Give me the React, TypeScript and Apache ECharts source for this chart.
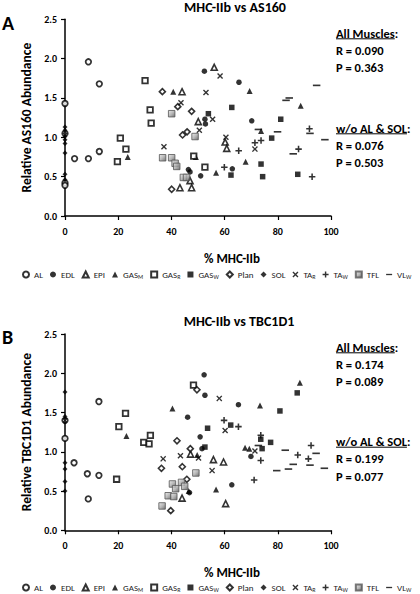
import React, { useEffect, useRef } from 'react';
import * as echarts from 'echarts';

// ---------- data ----------
const xTicks = [0, 20, 40, 60, 80, 100];
const yTicks = [0, 0.5, 1.0, 1.5, 2.0, 2.5];
const muscles = ['AL', 'EDL', 'EPI', 'GAS_M', 'GAS_R', 'GAS_W', 'Plan', 'SOL', 'TA_R', 'TA_W', 'TFL', 'VL_W'];

const titleA = 'MHC-IIb vs AS160';
const titleB = 'MHC-IIb vs TBC1D1';
const yNameA = 'Relative AS160 Abundance';
const yNameB = 'Relative TBC1D1 Abundance';
const xName = '% MHC-IIb';
const statsA = { all: ['R = 0.090', 'P = 0.363'], wo: ['R = 0.076', 'P = 0.503'] };
const statsB = { all: ['R = 0.174', 'P = 0.089'], wo: ['R = 0.199', 'P = 0.077'] };

// Panel A: % MHC-IIb vs relative AS160
const AL_A = [[0, 1.43], [0, 1.05], [0, 0.42], [0, 0.39], [3.6, 0.73], [8.8, 0.73], [12.9, 0.82], [8.8, 1.96], [12.9, 1.68]];
const EDL_A = [[52.4, 1.84], [65.4, 1.70], [52.6, 1.23], [52.8, 1.17], [70.2, 1.21], [62.9, 0.60], [51, 0.51], [46.4, 0.59], [47, 0.56]];
const EPI_A = [[56.1, 1.89], [44, 1.58], [50.1, 1.20], [60.2, 0.94], [60.8, 0.86], [47, 0.45], [47.6, 0.36], [43.2, 0.36]];
const GAS_M_A = [[40.7, 1.58], [23.6, 0.75], [69.4, 1.59], [88.6, 1.40], [73.7, 1.08], [67.9, 0.69], [56.8, 0.55], [49.2, 0.75]];
const GAS_R_A = [[30.1, 1.72], [32, 1.35], [32.4, 1.18], [20.8, 0.99], [22.9, 0.85], [19.7, 0.69], [52.6, 0.62], [48.4, 0.76]];
const GAS_W_A = [[62.7, 1.38], [53.9, 1.30], [81.1, 1.23], [77.7, 0.99], [73.7, 0.66], [62.4, 0.52], [74.3, 0.50], [87.5, 0.53]];
const Plan_A = [[36.6, 1.58], [42.4, 1.39], [47.6, 1.33], [44.2, 1.03], [45.9, 1.07], [40.1, 0.34]];
const SOL_A = [[0, 1.13], [0, 1.09], [0, 1.05], [0, 1.01], [0, 0.97], [0, 0.92], [0, 0.80], [0, 0.53], [0, 0.46]];
const TA_R_A = [[58.3, 1.78], [53, 1.57], [43.6, 1.44], [55.5, 1.23], [50.5, 1.09], [37.2, 0.88], [60.5, 1.0], [71.4, 0.85]];
const TA_W_A = [[91.9, 1.11], [71.4, 0.93], [73.7, 0.96], [65.3, 0.83], [87.8, 0.85], [59.9, 0.62], [92.9, 0.50]];
const TFL_A = [[40.1, 1.30], [48.9, 1.01], [36.7, 0.74], [40.1, 0.74], [41.4, 0.67], [42, 0.63], [44.5, 0.49], [45.7, 0.49]];
const VL_W_A = [[94.6, 1.66], [83.1, 1.47], [84.3, 1.50], [72.7, 1.10], [79.9, 1.07], [92.1, 1.05], [97.7, 0.97], [85.8, 0.79]];

// Panel B: % MHC-IIb vs relative TBC1D1
const AL_B = [[12.75, 1.64], [0, 1.17], [3.4, 0.86], [8.4, 0.72], [12.75, 0.70], [8.75, 0.40], [0, 1.40]];
const EDL_B = [[52.3, 1.98], [52.6, 1.72], [65.2, 1.60], [46.1, 1.44], [50.8, 1.19], [69.9, 0.94], [62.7, 0.58], [51.5, 1.04], [46.8, 0.48]];
const EPI_B = [[47.2, 0.97], [55.8, 0.90], [59.6, 0.87], [60.4, 0.34], [44, 0.41]];
const GAS_M_B = [[40.4, 1.55], [23.1, 1.20], [88.3, 1.88], [73.3, 1.59], [67.7, 1.05], [69.3, 1.04], [56.8, 0.52], [49.7, 0.96], [46.5, 0.50]];
const GAS_R_B = [[22.75, 1.49], [20.25, 1.32], [32.1, 1.21], [29.6, 1.12], [31.6, 1.10], [19.4, 0.65], [48.3, 1.85]];
const GAS_W_B = [[87.3, 1.75], [80.8, 1.52], [62.3, 1.34], [53.6, 1.30], [73.6, 1.16], [77.3, 1.12], [74.1, 1.04], [52.6, 1.06]];
const Plan_B = [[42.1, 1.14], [47.1, 1.04], [36.25, 0.79], [44.1, 0.81], [49.6, 1.79], [39.75, 0.25], [45.8, 0.65]];
const SOL_B = [[0, 1.76], [0, 1.45], [0, 1.42], [0, 1.38], [0, 0.86], [0, 0.78], [0, 0.62], [0, 0.50]];
const TA_R_B = [[36.9, 0.91], [43.4, 0.95], [50.2, 0.92], [58, 1.68], [60.2, 1.27], [55.3, 0.76], [71.4, 1.01]];
const TA_W_B = [[59.8, 1.40], [65.2, 1.32], [73.6, 1.21], [73.6, 0.89], [71.1, 0.64], [92.5, 1.08], [87.5, 0.96], [91.5, 0.91]];
const TFL_B = [[49.2, 0.73], [40.4, 0.59], [43.8, 0.61], [41.6, 0.53], [38.8, 0.44], [40.9, 0.43], [36.5, 0.31], [45, 0.56]];
const VL_W_B = [[82.8, 1.02], [72.7, 1.08], [94.4, 0.98], [85.8, 0.84], [84, 0.78], [79.6, 0.76], [92.1, 0.83], [97.5, 0.79]];

const dataA: Record<string, number[][]> = { AL: AL_A, EDL: EDL_A, EPI: EPI_A, GAS_M: GAS_M_A, GAS_R: GAS_R_A, GAS_W: GAS_W_A, Plan: Plan_A, SOL: SOL_A, TA_R: TA_R_A, TA_W: TA_W_A, TFL: TFL_A, VL_W: VL_W_A };
const dataB: Record<string, number[][]> = { AL: AL_B, EDL: EDL_B, EPI: EPI_B, GAS_M: GAS_M_B, GAS_R: GAS_R_B, GAS_W: GAS_W_B, Plan: Plan_B, SOL: SOL_B, TA_R: TA_R_B, TA_W: TA_W_B, TFL: TFL_B, VL_W: VL_W_B };

// ---------- styles ----------
const FONT = 'Carlito, Lato, "Liberation Sans", sans-serif';
const X_PATH = 'path://M0,1.6L1.6,0L5,3.4L8.4,0L10,1.6L6.6,5L10,8.4L8.4,10L5,6.6L1.6,10L0,8.4L3.4,5Z';
const PLUS_PATH = 'path://M3.8,0H6.2V3.8H10V6.2H6.2V10H3.8V6.2H0V3.8H3.8Z';
const DASH_PATH = 'path://M0,0M10,10M0,3.9H10V6.1H0Z';

const tflFill = new echarts.graphic.LinearGradient(0, 0, 1, 1, [
  { offset: 0, color: '#e6e6e6' },
  { offset: 0.5, color: '#a8a8a8' },
  { offset: 1, color: '#505050' },
]);

const symStyle: Record<string, any> = {
  AL: { symbol: 'circle', size: 5.5, itemStyle: { color: '#fff', borderColor: '#000', borderWidth: 1.8 } },
  EDL: { symbol: 'circle', size: 5.5, itemStyle: { color: '#000' } },
  EPI: { symbol: 'triangle', size: 6, itemStyle: { color: '#fff', borderColor: '#000', borderWidth: 1.6 } },
  GAS_M: { symbol: 'triangle', size: 6, itemStyle: { color: '#000' } },
  GAS_R: { symbol: 'rect', size: 5.5, itemStyle: { color: '#fff', borderColor: '#000', borderWidth: 1.8 } },
  GAS_W: { symbol: 'rect', size: 5.5, itemStyle: { color: '#000' } },
  Plan: { symbol: 'diamond', size: 6, itemStyle: { color: '#fff', borderColor: '#000', borderWidth: 1.6 } },
  SOL: { symbol: 'diamond', size: 5, itemStyle: { color: '#000' } },
  TA_R: { symbol: X_PATH, size: 6, itemStyle: { color: '#000' } },
  TA_W: { symbol: PLUS_PATH, size: 6.5, itemStyle: { color: '#000' } },
  TFL: { symbol: 'rect', size: 6.5, itemStyle: { color: tflFill, borderColor: '#555', borderWidth: 1 } },
  VL_W: { symbol: DASH_PATH, size: 7.5, itemStyle: { color: '#000' } },
};

function measure(text: string, font: string): number {
  const ctx = document.createElement('canvas').getContext('2d');
  if (!ctx) return text.length * 6;
  ctx.font = font;
  return ctx.measureText(text).width;
}

export default function App() {
  const ref = useRef<HTMLDivElement>(null);

  useEffect(() => {
    if (!ref.current) return;
    const chart = echarts.init(ref.current, undefined, { renderer: 'svg' });

    const axisLine = { show: true, onZero: false, lineStyle: { color: '#000', width: 1.5 } };
    const axisLabel = { color: '#000', fontWeight: 'bold', fontSize: 10, fontFamily: FONT };
    const mkX = (gi: number) => ({
      type: 'value', gridIndex: gi, min: xTicks[0], max: xTicks[xTicks.length - 1], interval: xTicks[1] - xTicks[0],
      axisLine, axisTick: { show: true, length: 4, lineStyle: { color: '#000', width: 1.2 } },
      axisLabel: { ...axisLabel, margin: 10 }, splitLine: { show: false },
    });
    const mkY = (gi: number, name: string) => ({
      type: 'value', gridIndex: gi, min: yTicks[0], max: yTicks[yTicks.length - 1], interval: yTicks[1] - yTicks[0],
      axisLine, axisTick: { show: true, length: 4, lineStyle: { color: '#000', width: 1.2 } },
      axisLabel: { ...axisLabel, margin: 8, formatter: (v: number) => v.toFixed(1) }, splitLine: { show: false },
      name, nameLocation: 'middle', nameRotate: 90, nameGap: 31,
      nameTextStyle: { color: '#000', fontWeight: 'bold', fontSize: 13.5, fontFamily: FONT },
    });

    const series: any[] = [];
    [dataA, dataB].forEach((ds, gi) => {
      muscles.forEach((m) => {
        const s = symStyle[m];
        series.push({
          type: 'scatter', name: m, xAxisIndex: gi, yAxisIndex: gi, data: ds[m],
          symbol: s.symbol, symbolSize: s.size, itemStyle: s.itemStyle, z: 3,
        });
      });
    });

    const legendFmt = (name: string) => {
      if (name.includes('_')) {
        const [b, sub] = name.split('_');
        return `{b|${b}}{s|${sub}}`;
      }
      return `{b|${name}}`;
    };
    const mkLegend = (top: number) => ({
      data: muscles, left: 22, top, width: 410, orient: 'horizontal', itemWidth: 6, itemHeight: 6, itemGap: 7,
      padding: 0, selectedMode: false, formatter: legendFmt,
      textStyle: {
        color: '#222', fontFamily: FONT,
        rich: {
          b: { fontSize: 9, color: '#222', fontFamily: FONT, lineHeight: 11 },
          s: { fontSize: 6, color: '#222', fontFamily: FONT, lineHeight: 2, verticalAlign: 'bottom' },
        },
      },
    });

    const boldF = (size: number) => `bold ${size}px ${FONT}`;
    const graphics: any[] = [];
    const txt = (text: string, x: number, y: number, size: number, align = 'left') => {
      graphics.push({
        type: 'text', x, y, silent: true,
        style: { text, font: boldF(size), fill: '#000', textAlign: align, textVerticalAlign: 'middle' },
      });
    };
    const underline = (text: string, x: number, y: number, size: number) => {
      const w = measure(text, boldF(size));
      graphics.push({ type: 'line', silent: true, shape: { x1: x, y1: y, x2: x + w, y2: y }, style: { stroke: '#000', lineWidth: 1 } });
    };
    const stats = (st: { all: string[]; wo: string[] }, y0: number, y1: number) => {
      const x = 336, fs = 12.5;
      txt('All Muscles:', x, y0, fs); underline('All Muscles', x, y0 + 5.5, fs);
      txt(st.all[0], x, y0 + 17, fs); txt(st.all[1], x, y0 + 34.5, fs);
      txt('w/o AL & SOL:', x, y1, fs); underline('w/o AL & SOL', x, y1 + 5.5, fs);
      txt(st.wo[0], x, y1 + 17, fs); txt(st.wo[1], x, y1 + 34.5, fs);
    };
    // panel letters and titles
    txt('A', 2, 23, 20); txt('B', 2, 337, 20);
    txt(titleA, 235, 7.5, 14, 'center');
    txt(titleB, 239, 321, 14, 'center');
    txt(xName, 232, 258, 13, 'center');
    txt(xName, 232, 572, 13, 'center');
    stats(statsA, 33.3, 128.3);
    stats(statsB, 347.3, 441.7);

    chart.setOption({
      animation: false,
      backgroundColor: '#fff',
      grid: [
        { left: 65, top: 19.3, width: 266, height: 196.7 },
        { left: 65, top: 334, width: 266, height: 196.3 },
      ],
      xAxis: [mkX(0), mkX(1)],
      yAxis: [mkY(0, yNameA), mkY(1, yNameB)],
      legend: [mkLegend(270), mkLegend(583)],
      series,
      graphic: graphics,
    });

    return () => chart.dispose();
  }, []);

  return <div ref={ref} style={{ position: 'absolute', left: 0, top: 0, width: 420, height: 594 }} />;
}
